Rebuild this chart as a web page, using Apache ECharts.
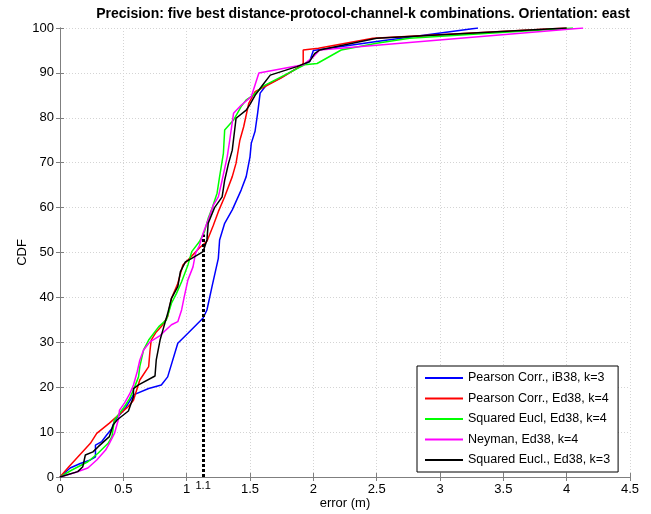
<!DOCTYPE html>
<html>
<head>
<meta charset="utf-8">
<script src="https://cdn.jsdelivr.net/npm/echarts@6/dist/echarts.min.js"></script>
<style>html,body{margin:0;padding:0;background:#fff;}#c{width:651px;height:514px;}</style>
</head>
<body>
<div id="c"></div>
<script>
const titleText = 'Precision: five best distance-protocol-channel-k combinations. Orientation: east';
const seriesNames = ['Pearson Corr., iB38, k=3','Pearson Corr., Ed38, k=4','Squared Eucl, Ed38, k=4','Neyman, Ed38, k=4','Squared Eucl., Ed38, k=3'];
const xTickLabels = ['0','0.5','1','1.5','2','2.5','3','3.5','4','4.5'];
const yTickLabels = ['0','10','20','30','40','50','60','70','80','90','100'];
const markerX = 1.13;
const markerLabel = '1.1';
const markerTop = 54;

const bluePearsonIB38 = [[0,0],[0.08,2],[0.16,3],[0.24,3.8],[0.28,4.5],[0.28,7.1],[0.33,7.9],[0.37,9.4],[0.41,10.8],[0.43,12.5],[0.52,15.5],[0.58,18.3],[0.70,19.7],[0.80,20.5],[0.85,22.3],[0.93,29.8],[1.01,32],[1.13,35.4],[1.16,37.2],[1.20,42.4],[1.25,48.7],[1.26,52.8],[1.30,56.5],[1.36,59.5],[1.43,63.9],[1.47,66.9],[1.50,71.3],[1.51,74.3],[1.54,77],[1.56,81],[1.58,85.5],[1.63,87.3],[1.75,89],[1.90,91.5],[1.97,92.5],[2.0,95],[2.5,97],[3.3,100]];
const redPearsonEd38 = [[0,0],[0.07,2.3],[0.24,7.5],[0.29,9.7],[0.39,12],[0.43,13],[0.54,15.7],[0.58,17.1],[0.63,21.6],[0.70,24.6],[0.71,28],[0.72,30.5],[0.76,32.3],[0.80,33.5],[0.85,35.7],[0.88,39.8],[0.93,43.1],[0.97,47.2],[1.01,48.3],[1.10,51],[1.16,52.5],[1.21,56],[1.25,59.1],[1.30,62.4],[1.36,66.9],[1.39,69.9],[1.42,75],[1.45,78],[1.49,83.2],[1.54,85.8],[1.74,88.8],[1.87,91],[1.92,92.1],[1.92,95.1],[2.04,95.5],[2.47,97.7],[4.0,100]];
const greenSqEuclEd38k4 = [[0,0],[0.09,1.5],[0.22,3.4],[0.30,5.3],[0.38,7.5],[0.41,9],[0.42,10.8],[0.43,12.7],[0.51,15.7],[0.55,17.5],[0.58,19.4],[0.62,22.3],[0.63,24.6],[0.66,28.3],[0.70,30.5],[0.78,33.5],[0.84,35],[0.88,38.7],[0.92,40.9],[0.96,43.5],[1.01,47.2],[1.04,50.2],[1.10,52.4],[1.14,54.6],[1.17,57.6],[1.20,59.8],[1.24,63.2],[1.26,66.9],[1.29,72.1],[1.30,77.3],[1.37,79.5],[1.43,82.5],[1.47,84],[1.53,85.1],[1.60,87],[1.93,91.8],[2.03,92.1],[2.22,95.1],[2.5,96.6],[2.76,97.7],[4.05,100]];
const magentaNeymanEd38 = [[0,0],[0.12,1],[0.22,2],[0.29,3.8],[0.36,6],[0.39,7.5],[0.43,9.7],[0.46,12.7],[0.47,14.9],[0.51,16.5],[0.55,18.5],[0.58,20.5],[0.61,23.5],[0.63,26],[0.66,28.3],[0.71,30.1],[0.79,31.5],[0.88,33.9],[0.93,34.6],[0.96,37.2],[0.98,40],[1.01,43.9],[1.05,46.8],[1.07,49.8],[1.10,51.5],[1.13,54.3],[1.18,58],[1.21,60.5],[1.25,62.4],[1.28,66.1],[1.32,71.3],[1.34,75],[1.37,81],[1.43,82.8],[1.51,84.7],[1.57,90],[1.92,91.8],[2.0,93.6],[2.05,95.1],[4.13,100]];
const blackSqEuclEd38k3 = [[0,0],[0.14,1.2],[0.18,2.3],[0.20,4.9],[0.26,5.6],[0.30,6.7],[0.35,8],[0.39,9],[0.42,11.6],[0.45,12.7],[0.54,14.7],[0.58,17.9],[0.58,19.7],[0.62,20.5],[0.75,22.5],[0.76,26.1],[0.79,30.5],[0.82,33.5],[0.85,36.4],[0.88,39.8],[0.93,42.4],[0.95,45.7],[0.99,47.9],[1.04,48.7],[1.13,50.2],[1.16,52.8],[1.17,56.5],[1.22,60],[1.28,62.4],[1.30,66.1],[1.33,69.8],[1.36,72.8],[1.39,79.9],[1.47,81.7],[1.50,83],[1.54,85],[1.60,87.3],[1.66,89.5],[1.87,91.4],[1.97,92.5],[2.01,94.3],[2.05,95.1],[2.5,97.7],[4.0,100]];

const seriesData = [bluePearsonIB38, redPearsonEd38, greenSqEuclEd38k4, magentaNeymanEd38, blackSqEuclEd38k3];
const colors = ['#0000ff','#ff0000','#00ff00','#ff00ff','#000000'];

const FONT = '"Liberation Sans", Arial, sans-serif';
const chart = echarts.init(document.getElementById('c'), null, {renderer:'canvas'});

const series = seriesData.map((d, i) => ({
  name: seriesNames[i],
  type: 'line',
  data: d,
  symbol: 'none',
  animation: false,
  lineStyle: {color: colors[i], width: 1.5},
  itemStyle: {color: colors[i]},
  z: 2 + i
}));
series.push({
  name: 'marker',
  type: 'line',
  data: [],
  symbol: 'none',
  animation: false,
  markLine: {
    silent: true,
    symbol: ['none','none'],
    animation: false,
    lineStyle: {color: '#000', width: 3, type: [3, 2]},
    label: {show: true, position: 'start', formatter: markerLabel, fontSize: 11, color: '#000', fontFamily: FONT, distance: 3},
    data: [[{coord: [markerX, 0]}, {coord: [markerX, markerTop]}]]
  },
  z: 10
});

const gridLine = {show: true, lineStyle: {color: '#d4d4d4', type: [1, 2], width: 1}};
const axisLine = {show: true, lineStyle: {color: '#7f7f7f', width: 1}};
const tick = {show: true, inside: true, length: 4, lineStyle: {color: '#7f7f7f'}};

chart.setOption({
  backgroundColor: '#fff',
  animation: false,
  title: {
    text: titleText, left: 358, top: 2, textAlign: 'center',
    textStyle: {fontSize: 14, fontWeight: 'bold', color: '#000', fontFamily: FONT}
  },
  legend: {
    data: seriesNames.map(n => ({name: n, icon: 'rect'})),
    orient: 'vertical',
    left: 417, top: 366,
    backgroundColor: '#fff',
    borderColor: '#000', borderWidth: 1,
    padding: [5, 8, 5, 8],
    itemWidth: 38, itemHeight: 2, itemGap: 6.5,
    textStyle: {fontSize: 12.5, lineHeight: 14, color: '#000', fontFamily: FONT}
  },
  grid: {left: 60, right: 21, top: 28, bottom: 37, containLabel: false, outerBoundsMode: 'none'},
  xAxis: [{
    type: 'value', min: 0, max: 4.5, interval: 0.5,
    name: 'error (m)', nameLocation: 'middle', nameGap: 20, nameMoveOverlap: false,
    nameTextStyle: {fontSize: 13, color: '#000', fontFamily: FONT},
    axisLine: axisLine, axisTick: tick, splitLine: gridLine,
    axisLabel: {fontSize: 13, color: '#000', fontFamily: FONT, margin: 6,
      formatter: v => xTickLabels[Math.round(v / 0.5)]}
  }, {
    type: 'value', min: 0, max: 4.5, interval: 0.5, position: 'top',
    axisLine: axisLine, axisTick: tick, splitLine: {show: false}, axisLabel: {show: false}
  }],
  yAxis: [{
    type: 'value', min: 0, max: 100, interval: 10,
    name: 'CDF', nameLocation: 'middle', nameGap: 31, nameRotate: 90, nameMoveOverlap: false,
    nameTextStyle: {fontSize: 13, color: '#000', fontFamily: FONT},
    axisLine: axisLine, axisTick: tick, splitLine: gridLine,
    axisLabel: {fontSize: 13, color: '#000', fontFamily: FONT, margin: 6,
      formatter: v => yTickLabels[Math.round(v / 10)]}
  }, {
    type: 'value', min: 0, max: 100, interval: 10, position: 'right',
    axisLine: axisLine, axisTick: tick, splitLine: {show: false}, axisLabel: {show: false}
  }],
  series: series
});
</script>
</body>
</html>
